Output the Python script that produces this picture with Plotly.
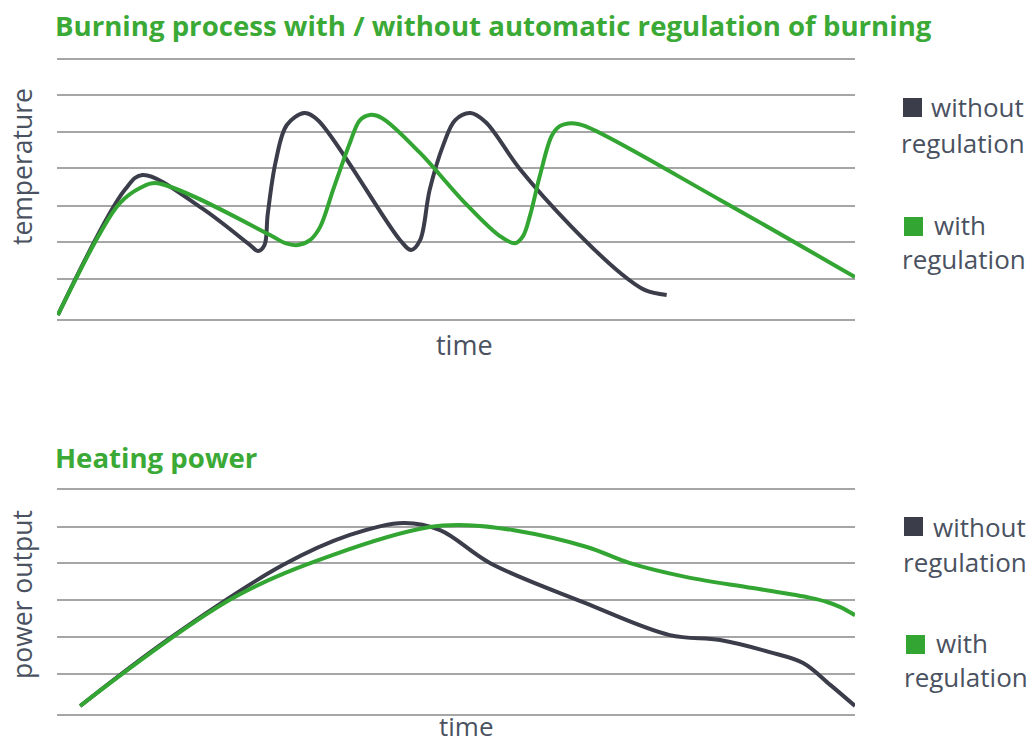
import plotly.graph_objects as go

# ---- data (time in % of plot width, value in grid units) ----
temp_time_without = [0.1, 8.5, 10.7, 18.0, 24.2, 25.2, 26.0, 26.4, 27.4, 28.8, 31.0, 32.7, 43.0, 44.4, 45.5, 46.7, 48.4, 49.9, 51.8, 53.7, 58.0, 64.4, 70.6, 73.7, 76.4]
temp_val_without  = [0.13, 3.49, 3.89, 3.02, 2.01, 1.85, 2.01, 2.82, 4.24, 5.23, 5.55, 5.36, 2.14, 1.88, 2.14, 3.49, 4.69, 5.36, 5.55, 5.31, 4.05, 2.52, 1.26, 0.80, 0.67]

temp_time_with = [0.1, 5.4, 7.9, 10.4, 12.5, 26.7, 28.6, 30.2, 31.7, 32.96, 34.6, 36.7, 37.97, 39.2, 40.7, 45.5, 50.9, 55.5, 57.4, 58.4, 59.3, 60.5, 62.0, 63.0, 64.5, 66.2, 83.1, 100.0]
temp_val_with  = [0.13, 2.33, 3.14, 3.54, 3.67, 2.28, 2.06, 2.01, 2.14, 2.49, 3.49, 4.75, 5.36, 5.50, 5.42, 4.48, 3.19, 2.25, 2.06, 2.25, 2.82, 3.86, 4.94, 5.20, 5.28, 5.20, 3.22, 1.15]

power_time_without = [2.9, 13.8, 28.3, 36.7, 43.4, 48.0, 54.3, 66.0, 76.8, 83.1, 89.3, 93.5, 96.9, 100.0]
power_val_without  = [0.24, 1.99, 3.98, 4.78, 5.10, 4.91, 4.03, 2.99, 2.12, 1.99, 1.67, 1.38, 0.80, 0.24]

power_time_with = [2.9, 22.1, 34.6, 46.7, 51.4, 57.1, 66.4, 71.8, 78.9, 87.2, 94.4, 96.5, 98.1, 100.0]
power_val_with  = [0.24, 3.11, 4.25, 4.99, 5.04, 4.91, 4.46, 4.03, 3.66, 3.37, 3.11, 3.00, 2.87, 2.65]

temp_grid = [0, 1.10, 2.09, 3.06, 4.08, 5.04, 6.03, 7]
power_grid = [0, 1.09, 2.07, 3.05, 4.03, 4.99, 6]

DARK = "#3b3d4b"
GREEN = "#33a532"
GRID = "#a6a6a6"
TXT = "#4a5261"
TITLE_GREEN = "#3aa935"
FONT = "Open Sans"

W, H = 1035, 745
def px_x(p): return p / W
def px_y(p): return 1 - p / H

fig = go.Figure()

line_kw = dict(mode="lines", line_shape="spline", hoverinfo="skip", showlegend=False)
fig.add_trace(go.Scatter(x=temp_time_without, y=temp_val_without, line=dict(color=DARK, width=4, smoothing=1.0), xaxis="x", yaxis="y", **line_kw))
fig.add_trace(go.Scatter(x=temp_time_with, y=temp_val_with, line=dict(color=GREEN, width=4, smoothing=1.0), xaxis="x", yaxis="y", **line_kw))
fig.add_trace(go.Scatter(x=power_time_without, y=power_val_without, line=dict(color=DARK, width=4, smoothing=1.0), xaxis="x2", yaxis="y2", **line_kw))
fig.add_trace(go.Scatter(x=power_time_with, y=power_val_with, line=dict(color=GREEN, width=4, smoothing=1.0), xaxis="x2", yaxis="y2", **line_kw))

EPS = 0.04
xdom = [px_x(57), px_x(855)]
common_x = dict(range=[0, 100], showgrid=False, zeroline=False, showticklabels=False, showline=False, ticks="", domain=xdom, fixedrange=True)
common_y = dict(showgrid=True, gridcolor=GRID, gridwidth=2, zeroline=False, showticklabels=False, showline=False, ticks="", fixedrange=True)

t_unit = (320 - 59) / 7.0
p_unit = (715 - 489) / 6.0

fig.update_layout(
    width=W, height=H,
    margin=dict(l=0, r=0, t=0, b=0),
    paper_bgcolor="white", plot_bgcolor="white",
    showlegend=False,
    font=dict(family=FONT, color=TXT),
    xaxis=dict(**common_x, anchor="y"),
    yaxis=dict(**common_y, range=[-EPS, 7 + EPS], tickmode="array", tickvals=temp_grid,
               domain=[px_y(320 + EPS * t_unit), px_y(59 - EPS * t_unit)], anchor="x"),
    xaxis2=dict(**common_x, anchor="y2"),
    yaxis2=dict(**common_y, range=[-EPS, 6 + EPS], tickmode="array", tickvals=power_grid,
                domain=[px_y(715 + EPS * p_unit), px_y(489 - EPS * p_unit)], anchor="x2"),
)

ann = []
def add_text(text, x, y, size, color=TXT, xanchor="left", yanchor="middle", angle=0):
    ann.append(dict(text=text, x=px_x(x), y=px_y(y), xref="paper", yref="paper", showarrow=False,
                    xanchor=xanchor, yanchor=yanchor, textangle=angle, align="left",
                    font=dict(family=FONT, size=size, color=color)))

add_text("<b>Burning process with / without automatic regulation of burning</b>", 53, 25, 27.6, TITLE_GREEN)
add_text("<b>Heating power</b>", 53, 457, 27.6, TITLE_GREEN)
add_text("temperature", 22, 167, 26.5, angle=-90, xanchor="center")
add_text("power output", 22, 595, 26.5, angle=-90, xanchor="center")
add_text("time", 464, 344, 27, xanchor="center")
add_text("time", 466, 726, 26, xanchor="center")

shapes = []
def legend_block(sq_x, sq_y, color, label, line1_y, line2_y, lab_x, reg_x):
    shapes.append(dict(type="rect", xref="paper", yref="paper",
                       x0=px_x(sq_x), x1=px_x(sq_x + 19), y0=px_y(sq_y + 19), y1=px_y(sq_y),
                       fillcolor=color, line=dict(width=0)))
    add_text(label, lab_x, line1_y, 26)
    add_text("regulation", reg_x, line2_y, 26)

legend_block(903, 98, DARK, "without", 107, 143, 929, 899)
legend_block(904, 217, GREEN, "with", 225, 259, 932, 900)
legend_block(904, 517, DARK, "without", 527, 562, 931, 901)
legend_block(906, 635, GREEN, "with", 643, 677, 934, 902)

fig.update_layout(annotations=ann, shapes=shapes)
fig.write_html("out.html", config={"displayModeBar": False},
               post_script="document.body.style.margin='0';document.body.style.overflow='hidden';")
